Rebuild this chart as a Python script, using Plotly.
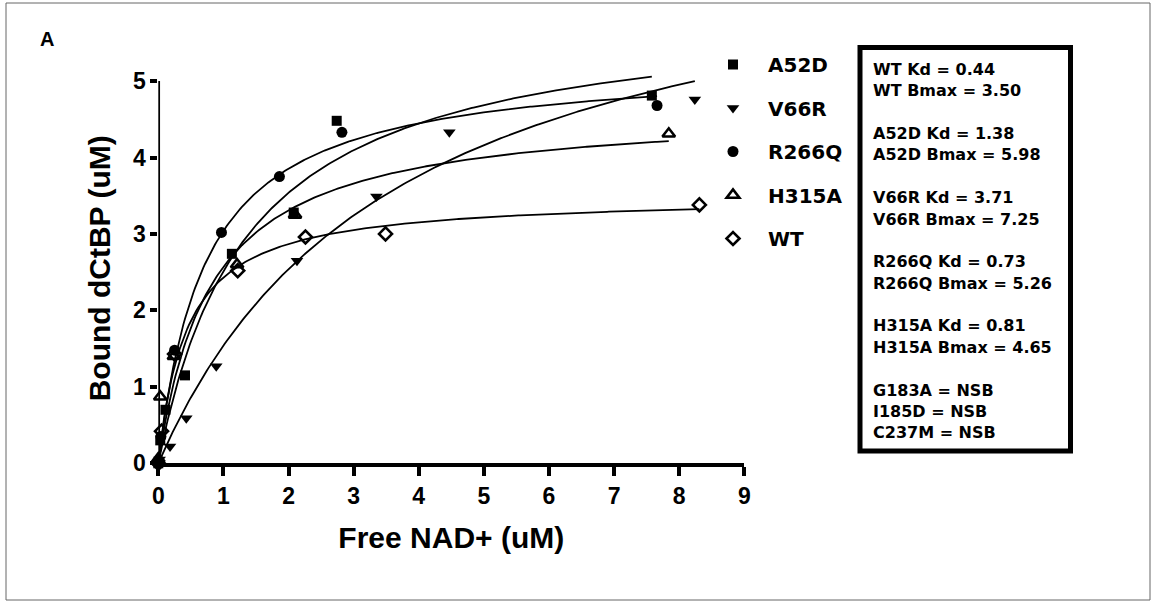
import numpy as np
import plotly.graph_objects as go

# ---------------- data ----------------
series_names = ["A52D", "V66R", "R266Q", "H315A", "WT"]

a52d_x = [0.00, 0.03, 0.11, 0.41, 1.13, 2.08, 2.74, 7.58]
a52d_y = [0.00, 0.30, 0.70, 1.15, 2.74, 3.28, 4.48, 4.81]

v66r_x = [0.02, 0.18, 0.43, 0.89, 2.13, 3.35, 4.47, 8.24]
v66r_y = [0.05, 0.22, 0.59, 1.27, 2.65, 3.49, 4.33, 4.76]

r266q_x = [0.00, 0.04, 0.25, 0.97, 1.86, 2.82, 7.66]
r266q_y = [0.03, 0.35, 1.48, 3.02, 3.75, 4.33, 4.68]

h315a_x = [0.00, 0.03, 0.24, 1.21, 2.10, 7.84]
h315a_y = [0.06, 0.87, 1.40, 2.60, 3.25, 4.31]

wt_x = [0.00, 0.05, 0.25, 1.22, 2.26, 3.49, 8.31]
wt_y = [0.00, 0.42, 1.43, 2.52, 2.96, 3.00, 3.38]

# fitted one-site binding parameters (from the text box)
kd_values = [1.38, 3.71, 0.73, 0.81, 0.44]
bmax_values = [5.98, 7.25, 5.26, 4.65, 3.50]

box_lines = [
    "WT Kd = 0.44", "WT Bmax = 3.50", "",
    "A52D Kd = 1.38", "A52D Bmax = 5.98", "",
    "V66R Kd = 3.71", "V66R Bmax = 7.25", "",
    "R266Q Kd = 0.73", "R266Q Bmax = 5.26", "",
    "H315A Kd = 0.81", "H315A Bmax = 4.65", "",
    "G183A = NSB", "I185D = NSB", "C237M = NSB",
]

x_ticks = [0, 1, 2, 3, 4, 5, 6, 7, 8, 9]
y_ticks = [0, 1, 2, 3, 4, 5]

# ---------------- styling ----------------
W, H = 1154, 605
xs_all = [a52d_x, v66r_x, r266q_x, h315a_x, wt_x]
ys_all = [a52d_y, v66r_y, r266q_y, h315a_y, wt_y]
symbols = ["square", "triangle-down", "circle", "triangle-up-open", "diamond-open"]
sizes = [10, 11, 11, 11, 10]

AX_FONT = "Liberation Sans, Arial, sans-serif"
BOX_FONT = "DejaVu Sans, sans-serif"

fig = go.Figure()

# fit curves
for xs, kd, bm in zip(xs_all, kd_values, bmax_values):
    xf = np.linspace(0, max(xs), 300)
    yf = bm * xf / (kd + xf)
    fig.add_trace(go.Scatter(x=xf, y=yf, mode="lines",
                             line=dict(color="black", width=1.8),
                             showlegend=False, hoverinfo="skip"))

# data points
for name, xs, ys, sym, sz in zip(series_names, xs_all, ys_all, symbols, sizes):
    fig.add_trace(go.Scatter(
        x=xs, y=ys, mode="markers", name=name, legendgroup=name,
        marker=dict(symbol=sym, size=sz, color="black",
                    line=dict(color="black", width=2.6 if "open" in sym else 0)),
        cliponaxis=False))

px_x = lambda p: p / W
px_y = lambda p: 1 - p / H

shapes = [
    # outer frame of the picture
    dict(type="rect", xref="paper", yref="paper",
         x0=px_x(6), x1=px_x(1150), y0=px_y(600), y1=px_y(3),
         line=dict(color="#666666", width=1)),
    # y axis line from 0 to 5
    dict(type="line", xref="x", yref="y", x0=0, x1=0, y0=0, y1=5,
         line=dict(color="black", width=3.5), layer="above"),
    # results box
    dict(type="rect", xref="paper", yref="paper",
         x0=px_x(860), x1=px_x(1070.5), y0=px_y(451), y1=px_y(47.5),
         line=dict(color="black", width=5)),
]

annotations = [
    dict(text="A", x=px_x(46.5), y=px_y(39), xref="paper", yref="paper",
         showarrow=False, xanchor="center", yanchor="middle",
         font=dict(family=AX_FONT, size=20, color="black", weight="bold")),
]
for i, line in enumerate(box_lines):
    if not line:
        continue
    annotations.append(dict(
        text=line, x=px_x(871), y=px_y(69.5 + i * 21.37), xref="paper", yref="paper",
        showarrow=False, xanchor="left", yanchor="middle",
        font=dict(family=BOX_FONT, size=16, color="black", weight="bold")))

fig.update_layout(
    width=W, height=H,
    margin=dict(l=0, r=0, t=0, b=0, autoexpand=False),
    paper_bgcolor="white", plot_bgcolor="white",
    xaxis=dict(domain=[px_x(158.3), px_x(744.3)], range=[0, 9], automargin=False,
               tickvals=x_ticks, ticks="outside", ticklen=9, tickwidth=3.5,
               tickcolor="black", showline=True, linewidth=3.5, linecolor="black",
               showgrid=False, zeroline=False,
               tickfont=dict(family=AX_FONT, size=23, color="black", weight="bold"),
               title=dict(text="Free NAD+ (uM)", standoff=20,
                          font=dict(family=AX_FONT, size=30, color="black", weight="bold"))),
    yaxis=dict(domain=[px_y(463.3), px_y(73.4)], range=[0, 5.1], automargin=False,
               tickvals=y_ticks, ticks="outside", ticklen=7, tickwidth=3.5,
               tickcolor="black", showline=False,
               showgrid=False, zeroline=False,
               tickfont=dict(family=AX_FONT, size=23, color="black", weight="bold"),
               title=dict(text="Bound dCtBP (uM)", standoff=13,
                          font=dict(family=AX_FONT, size=30, color="black", weight="bold"))),
    legend=dict(x=px_x(733 - 35), y=px_y(45), xanchor="left", yanchor="top",
                itemwidth=60, tracegroupgap=14.5, traceorder="grouped",
                bgcolor="rgba(0,0,0,0)",
                font=dict(family=BOX_FONT, size=20, color="black", weight="bold")),
    shapes=shapes,
    annotations=annotations,
)

fig.write_html("out.html", config={"displayModeBar": False},
               post_script="document.body.style.margin='0';")
